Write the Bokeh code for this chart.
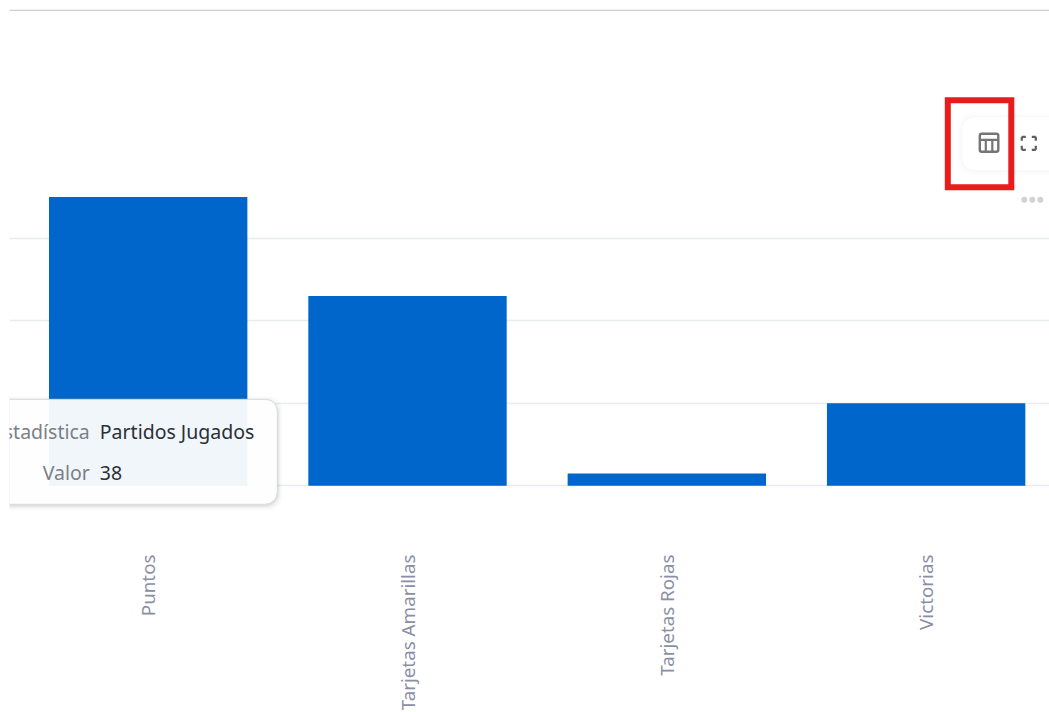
from bokeh.plotting import figure
from bokeh.models import Range1d, FixedTicker
from bokeh.core.properties import value
from bokeh.embed import file_html
from bokeh.resources import INLINE

categories = ["Puntos", "Tarjetas Amarillas", "Tarjetas Rojas", "Victorias"]
values = [70, 46, 3, 20]
grid_ticks = [0, 20, 40, 60]
tip_labels = ["Estadística", "Valor"]
tip_values = ["Partidos Jugados", "38"]

FONT = "Noto Sans"
positions = list(range(len(categories)))

p = figure(width=1049, height=712, frame_width=1040, frame_height=545,
           output_backend="svg", toolbar_location=None,
           x_range=Range1d(-0.5348, 3.4757), y_range=Range1d(-14.47, 117.65),
           min_border_left=9, min_border_right=0, min_border_top=0, min_border_bottom=0,
           outline_line_color=None, background_fill_color="white", border_fill_color="white")

# pixel-like overlay ranges for the page furniture (tooltip, buttons)
p.extra_x_ranges["px"] = Range1d(9.7, 1049.7)
p.extra_y_ranges["px"] = Range1d(545.7, 0.7)
PX = dict(x_range_name="px", y_range_name="px")

p.yaxis.visible = False
p.yaxis.ticker = FixedTicker(ticks=grid_ticks)
p.xgrid.visible = False
p.ygrid.ticker = FixedTicker(ticks=grid_ticks)
p.ygrid.grid_line_color = "#E8EAF4"
p.ygrid.grid_line_width = 1.3

ax = p.xaxis[0]
ax.ticker = FixedTicker(ticks=positions)
ax.major_label_overrides = {i: c for i, c in zip(positions, categories)}
ax.major_label_orientation = 1.5708
ax.axis_line_color = None
ax.major_tick_line_color = None
ax.minor_tick_line_color = None
ax.major_label_standoff = 3
ax.major_label_text_font = FONT
ax.major_label_text_font_size = "18.8px"
ax.major_label_text_color = "#8A8FA6"

# top rule
p.segment(x0=[9], x1=[1050], y0=[10.5], y1=[10.5], line_color="#CFCFCF", line_width=1.2, **PX)

# bars
p.vbar(x=positions, top=values, bottom=0, width=0.765, fill_color="#0066CC", line_color=None)

# tooltip
for grow, a in [(5, 0.02), (3, 0.035), (1.5, 0.06)]:
    p.quad(left=[-40], right=[277.5 + grow], top=[399.5 - grow + 2], bottom=[504.5 + grow + 1],
           fill_color="#000000", fill_alpha=a, line_color=None, border_radius=14, **PX)
p.quad(left=[-40], right=[277.5], top=[399.5], bottom=[504.5], fill_color="white", fill_alpha=0.945,
       line_color="#D9D9D9", line_width=1, border_radius=12, **PX)
p.text(x=[90, 90], y=[432, 473], text=tip_labels, text_align="right", text_baseline="middle",
       text_color="#7C7F86", text_font=value(FONT), text_font_size="19.5px", **PX)
p.text(x=[100, 100], y=[432, 473], text=tip_values, text_align="left", text_baseline="middle",
       text_color="#2B2F36", text_font=value(FONT), text_font_size="19.5px", **PX)

# button card
for grow, a in [(5, 0.006), (3, 0.008), (1.5, 0.01)]:
    p.quad(left=[962.5 - grow], right=[1100], top=[117.5 - grow], bottom=[170.5 + grow],
           fill_color="#000000", fill_alpha=a, line_color=None, border_radius=14, **PX)
p.quad(left=[962.5], right=[1100], top=[117.5], bottom=[170.5], fill_color="white", line_color=None,
       border_radius=12, **PX)

# table icon
p.quad(left=[980], right=[998.5], top=[134], bottom=[152], fill_color=None, line_color="#757575",
       line_width=2.4, border_radius=2, **PX)
p.segment(x0=[980, 986, 992.5], x1=[998.5, 986, 992.5], y0=[140, 140, 140], y1=[140, 152, 152],
          line_color="#757575", line_width=2.2, **PX)

# fullscreen icon
fx0 = [1022, 1022, 1032, 1036, 1022, 1022, 1032, 1036]
fx1 = [1026, 1022, 1036, 1036, 1026, 1022, 1036, 1036]
fy0 = [137, 137, 137, 137, 150, 146, 150, 146]
fy1 = [137, 141, 137, 141, 150, 150, 150, 150]
p.segment(x0=fx0, x1=fx1, y0=fy0, y1=fy1, line_color="#5F5F5F", line_width=2.2, **PX)

# drag dots
p.scatter(x=[1024.5, 1032.5, 1040.5], y=[200, 200, 200], size=6, marker="circle",
          fill_color="#D2D2D2", line_color=None, **PX)

# red highlight box
p.quad(left=[948], right=[1011.5], top=[100.5], bottom=[187.5], fill_color=None,
       line_color="#E81C1C", line_width=6, line_join="miter", **PX)

open("out.html", "w").write(file_html(p, INLINE))
